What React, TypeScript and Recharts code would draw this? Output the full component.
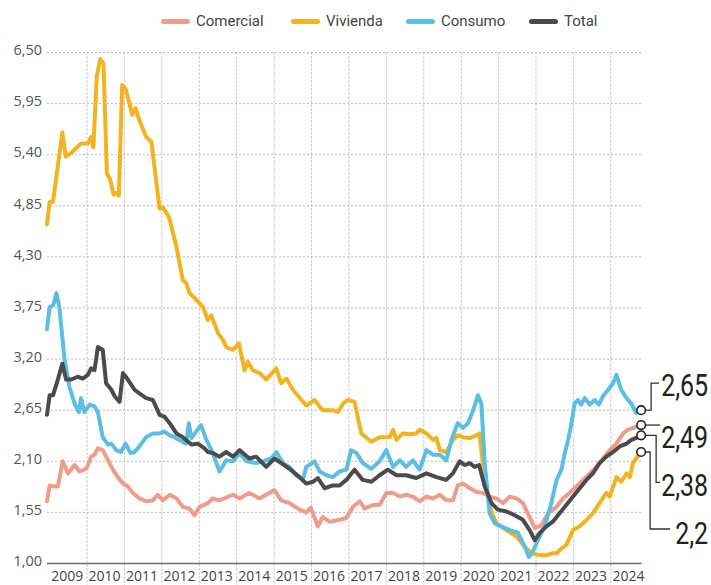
import React from 'react';
import { LineChart, Line, XAxis, YAxis, CartesianGrid, ReferenceLine } from 'recharts';

// ---- categories / ticks ----
const yearLabels = [2009, 2010, 2011, 2012, 2013, 2014, 2015, 2016, 2017, 2018, 2019, 2020, 2021, 2022, 2023, 2024];
const yearBoundaries = [2010, 2011, 2012, 2013, 2014, 2015, 2016, 2017, 2018, 2019, 2020, 2021, 2022, 2023, 2024];
const yTicks = [1.0, 1.55, 2.1, 2.65, 3.2, 3.75, 4.3, 4.85, 5.4, 5.95, 6.5];

// ---- series values: [decimal year, rate %] ----
const comercial: number[][] = [
  [2008.93, 1.67], [2009.0, 1.84], [2009.13, 1.83], [2009.22, 1.83], [2009.35, 2.1], [2009.49, 1.97], [2009.67, 2.06],
  [2009.8, 1.99], [2009.98, 2.02], [2010.11, 2.15], [2010.2, 2.17], [2010.29, 2.24], [2010.42, 2.22], [2010.56, 2.11],
  [2010.69, 2.01], [2010.82, 1.93], [2010.96, 1.86], [2011.09, 1.83], [2011.22, 1.76], [2011.4, 1.7], [2011.58, 1.67],
  [2011.76, 1.68], [2011.89, 1.74], [2012.03, 1.68], [2012.21, 1.74], [2012.39, 1.7], [2012.56, 1.61], [2012.74, 1.59],
  [2012.87, 1.52], [2013.01, 1.61], [2013.23, 1.65], [2013.36, 1.7], [2013.54, 1.68], [2013.9, 1.74], [2014.08, 1.7],
  [2014.34, 1.76], [2014.61, 1.7], [2015.01, 1.79], [2015.19, 1.68], [2015.41, 1.65], [2015.68, 1.58], [2015.86, 1.55],
  [2015.98, 1.6], [2016.17, 1.4], [2016.3, 1.5], [2016.48, 1.45], [2016.75, 1.47], [2016.93, 1.49], [2017.11, 1.61],
  [2017.29, 1.67], [2017.42, 1.59], [2017.64, 1.63], [2017.82, 1.63], [2018.0, 1.76], [2018.18, 1.76], [2018.36, 1.72],
  [2018.53, 1.74], [2018.71, 1.72], [2018.89, 1.67], [2019.07, 1.72], [2019.25, 1.7], [2019.43, 1.74], [2019.6, 1.68],
  [2019.78, 1.68], [2019.91, 1.84], [2020.05, 1.86], [2020.23, 1.81], [2020.41, 1.77], [2020.58, 1.76], [2020.76, 1.72],
  [2020.94, 1.7], [2021.12, 1.65], [2021.3, 1.72], [2021.48, 1.7], [2021.65, 1.65], [2021.83, 1.5], [2021.97, 1.38],
  [2022.14, 1.41], [2022.32, 1.54], [2022.55, 1.61], [2022.72, 1.7], [2022.9, 1.76], [2023.08, 1.83], [2023.26, 1.9],
  [2023.44, 1.97], [2023.61, 2.04], [2023.79, 2.13], [2023.97, 2.22], [2024.15, 2.29], [2024.33, 2.4], [2024.46, 2.44],
  [2024.68, 2.47], [2024.81, 2.49],
];

const vivienda: number[][] = [
  [2008.93, 4.65], [2009.0, 4.89], [2009.09, 4.89], [2009.34, 5.64], [2009.43, 5.38], [2009.58, 5.42], [2009.84, 5.52],
  [2010.02, 5.52], [2010.11, 5.59], [2010.17, 5.48], [2010.26, 6.24], [2010.35, 6.43], [2010.44, 6.38], [2010.53, 5.2],
  [2010.62, 5.13], [2010.71, 4.97], [2010.78, 4.99], [2010.85, 4.96], [2010.94, 6.15], [2011.03, 6.11], [2011.21, 5.83],
  [2011.3, 5.9], [2011.4, 5.77], [2011.58, 5.59], [2011.72, 5.54], [2011.94, 4.82], [2012.03, 4.83], [2012.16, 4.75],
  [2012.21, 4.7], [2012.39, 4.41], [2012.56, 4.05], [2012.65, 4.02], [2012.74, 3.91], [2012.92, 3.84], [2013.1, 3.76],
  [2013.23, 3.62], [2013.32, 3.67], [2013.5, 3.48], [2013.63, 3.41], [2013.72, 3.33], [2013.9, 3.3], [2014.06, 3.37],
  [2014.21, 3.08], [2014.3, 3.17], [2014.43, 3.08], [2014.61, 3.05], [2014.79, 2.98], [2015.06, 3.1], [2015.19, 2.94],
  [2015.33, 2.99], [2015.5, 2.87], [2015.86, 2.7], [2016.08, 2.76], [2016.3, 2.65], [2016.57, 2.65], [2016.71, 2.63],
  [2016.84, 2.72], [2016.97, 2.76], [2017.15, 2.74], [2017.33, 2.4], [2017.6, 2.31], [2017.82, 2.36], [2018.09, 2.36],
  [2018.18, 2.44], [2018.27, 2.33], [2018.44, 2.4], [2018.62, 2.39], [2018.8, 2.4], [2018.89, 2.44], [2019.07, 2.4],
  [2019.25, 2.33], [2019.34, 2.35], [2019.43, 2.22], [2019.6, 2.2], [2019.69, 2.26], [2019.78, 2.33], [2019.91, 2.38],
  [2020.05, 2.36], [2020.23, 2.35], [2020.41, 2.38], [2020.49, 2.4], [2020.58, 2.08], [2020.76, 1.61], [2020.94, 1.43],
  [2021.21, 1.36], [2021.48, 1.29], [2021.7, 1.18], [2021.88, 1.11], [2022.1, 1.09], [2022.28, 1.09], [2022.45, 1.11],
  [2022.55, 1.11], [2022.68, 1.16], [2022.81, 1.2], [2022.99, 1.36], [2023.17, 1.4], [2023.35, 1.47], [2023.52, 1.54],
  [2023.7, 1.65], [2023.88, 1.76], [2023.97, 1.72], [2024.15, 1.93], [2024.28, 1.88], [2024.42, 1.97], [2024.51, 1.93],
  [2024.59, 2.08], [2024.68, 2.13], [2024.81, 2.2],
];

const consumo: number[][] = [
  [2008.93, 3.52], [2009.0, 3.76], [2009.1, 3.78], [2009.18, 3.91], [2009.26, 3.76], [2009.4, 3.19], [2009.53, 2.9],
  [2009.67, 2.72], [2009.78, 2.63], [2009.84, 2.78], [2009.93, 2.63], [2010.07, 2.71], [2010.2, 2.69], [2010.29, 2.63],
  [2010.42, 2.36], [2010.56, 2.28], [2010.65, 2.29], [2010.78, 2.22], [2010.91, 2.2], [2011.03, 2.29], [2011.16, 2.19],
  [2011.27, 2.2], [2011.4, 2.26], [2011.58, 2.36], [2011.76, 2.4], [2011.94, 2.4], [2012.07, 2.42], [2012.21, 2.38],
  [2012.34, 2.36], [2012.47, 2.33], [2012.65, 2.29], [2012.72, 2.51], [2012.79, 2.35], [2012.92, 2.42], [2013.05, 2.49],
  [2013.19, 2.33], [2013.36, 2.19], [2013.54, 1.99], [2013.72, 2.11], [2013.9, 2.1], [2014.08, 2.19], [2014.26, 2.1],
  [2014.52, 2.08], [2014.7, 2.1], [2014.93, 2.13], [2015.06, 2.2], [2015.24, 2.08], [2015.41, 2.04], [2015.59, 1.95],
  [2015.77, 1.9], [2015.86, 2.04], [2016.08, 2.1], [2016.22, 1.99], [2016.4, 1.95], [2016.57, 1.93], [2016.75, 1.99],
  [2016.93, 2.01], [2017.06, 2.22], [2017.2, 2.19], [2017.37, 2.08], [2017.6, 2.02], [2017.82, 2.1], [2018.0, 2.22],
  [2018.18, 2.04], [2018.36, 2.11], [2018.53, 2.04], [2018.71, 2.11], [2018.89, 2.01], [2019.07, 2.22], [2019.25, 2.17],
  [2019.43, 2.17], [2019.6, 2.11], [2019.74, 2.33], [2019.87, 2.47], [2019.91, 2.51], [2020.05, 2.46], [2020.18, 2.51],
  [2020.32, 2.65], [2020.45, 2.81], [2020.54, 2.72], [2020.63, 2.08], [2020.76, 1.54], [2020.9, 1.43], [2021.07, 1.4],
  [2021.3, 1.36], [2021.52, 1.33], [2021.7, 1.18], [2021.81, 1.07], [2021.92, 1.13], [2022.05, 1.25], [2022.23, 1.4],
  [2022.41, 1.65], [2022.55, 1.9], [2022.68, 2.01], [2022.77, 2.19], [2022.86, 2.33], [2022.95, 2.51], [2023.03, 2.72],
  [2023.12, 2.76], [2023.21, 2.71], [2023.3, 2.78], [2023.44, 2.71], [2023.57, 2.76], [2023.68, 2.71], [2023.79, 2.8],
  [2023.93, 2.87], [2024.06, 2.94], [2024.15, 3.03], [2024.28, 2.87], [2024.42, 2.78], [2024.55, 2.72], [2024.68, 2.62],
  [2024.81, 2.65],
];

const total: number[][] = [
  [2008.93, 2.6], [2009.0, 2.81], [2009.09, 2.81], [2009.22, 2.98], [2009.34, 3.15], [2009.44, 2.98], [2009.58, 2.98],
  [2009.75, 3.01], [2009.89, 2.99], [2010.02, 3.03], [2010.11, 3.1], [2010.2, 3.08], [2010.29, 3.33], [2010.42, 3.3],
  [2010.51, 2.94], [2010.65, 2.87], [2010.74, 2.8], [2010.87, 2.74], [2010.96, 3.05], [2011.09, 2.98], [2011.27, 2.87],
  [2011.4, 2.83], [2011.58, 2.78], [2011.76, 2.76], [2011.94, 2.6], [2012.07, 2.58], [2012.21, 2.51], [2012.39, 2.4],
  [2012.56, 2.36], [2012.79, 2.28], [2012.96, 2.29], [2013.14, 2.24], [2013.23, 2.2], [2013.36, 2.19], [2013.54, 2.15],
  [2013.72, 2.2], [2013.9, 2.15], [2014.08, 2.22], [2014.34, 2.13], [2014.52, 2.15], [2014.79, 2.04], [2015.01, 2.13],
  [2015.19, 2.08], [2015.41, 2.02], [2015.68, 1.93], [2015.86, 1.86], [2016.04, 1.88], [2016.17, 1.92], [2016.35, 1.81],
  [2016.57, 1.84], [2016.75, 1.84], [2016.93, 1.9], [2017.15, 2.01], [2017.37, 1.9], [2017.6, 1.88], [2017.82, 1.95],
  [2018.04, 2.01], [2018.27, 1.95], [2018.53, 1.95], [2018.8, 1.92], [2019.07, 1.97], [2019.34, 1.93], [2019.6, 1.9],
  [2019.78, 1.97], [2019.96, 2.1], [2020.09, 2.06], [2020.23, 2.08], [2020.36, 2.04], [2020.48, 2.06], [2020.63, 1.83],
  [2020.81, 1.65], [2020.98, 1.58], [2021.21, 1.56], [2021.43, 1.52], [2021.65, 1.47], [2021.83, 1.36], [2021.97, 1.25],
  [2022.1, 1.33], [2022.28, 1.4], [2022.45, 1.45], [2022.63, 1.54], [2022.81, 1.63], [2022.99, 1.72], [2023.17, 1.81],
  [2023.35, 1.9], [2023.52, 1.97], [2023.7, 2.08], [2023.88, 2.15], [2024.06, 2.2], [2024.24, 2.26], [2024.42, 2.29],
  [2024.55, 2.33], [2024.73, 2.36], [2024.81, 2.38],
];

const toRows = (pairs: number[][]) => pairs.map(([t, v]) => ({ t, v }));

const COLORS = {
  comercial: '#F09C8D',
  vivienda: '#F5B21F',
  consumo: '#5CBEE2',
  total: '#4B4B4B',
};

const fmt = (v: number) => String(v).replace('.', ',');

type EndCfg = { path: (cx: number, cy: number) => string; lx: number; ly: number };

const endCfg: Record<string, EndCfg> = {
  consumo: { path: (cx, cy) => `M${cx + 4},${cy}H${cx + 10}V${cy - 27}H${cx + 18}`, lx: 20, ly: -26 },
  comercial: { path: (cx, cy) => `M${cx + 4},${cy}H${cx + 19}`, lx: 20, ly: 11 },
  total: { path: (cx, cy) => `M${cx + 4},${cy}H${cx + 15}V${cy + 47}H${cx + 19}`, lx: 20, ly: 49 },
  vivienda: { path: (cx, cy) => `M${cx + 4},${cy}H${cx + 9}V${cy + 77}H${cx + 29}`, lx: 34, ly: 80 },
};

const makeEndDot = (pairs: number[][], cfg: EndCfg) => (props: any) => {
  const { cx, cy, index } = props;
  if (index !== pairs.length - 1 || cx == null || cy == null) return <g key={`n${index}`} />;
  const label = fmt(pairs[pairs.length - 1][1]);
  return (
    <g key={`end${index}`}>
      <path d={cfg.path(cx, cy)} stroke="#333" strokeWidth={1.3} fill="none" />
      <circle cx={cx} cy={cy} r={4.3} fill="#fff" stroke="#222" strokeWidth={1.6} />
      <text
        transform={`translate(${cx + cfg.lx},${cy + cfg.ly + 11.5}) scale(0.78,1)`}
        fontSize={32}
        fontFamily="Roboto, 'Liberation Sans', sans-serif"
        fill="#222"
      >
        {label}
      </text>
    </g>
  );
};

const YTick = (props: any) => {
  const { x, y, payload } = props;
  return (
    <text x={x} y={y - 2.5} dy="0.36em" textAnchor="end" fontSize={14.5} fill="#555" fontFamily="'Open Sans', sans-serif">
      {Number(payload.value).toFixed(2).replace('.', ',')}
    </text>
  );
};

const XTick = (props: any) => {
  const { x, y, payload } = props;
  return (
    <text x={x} y={y + 17} textAnchor="middle" fontSize={14} fill="#444" fontFamily="'Open Sans', sans-serif">
      {Math.floor(payload.value)}
    </text>
  );
};

const legendItems = [
  { name: 'Comercial', color: COLORS.comercial, left: 161 },
  { name: 'Vivienda', color: COLORS.vivienda, left: 291 },
  { name: 'Consumo', color: COLORS.consumo, left: 406 },
  { name: 'Total', color: COLORS.total, left: 529 },
];

export default function App() {
  const series = [
    { key: 'comercial', data: comercial },
    { key: 'vivienda', data: vivienda },
    { key: 'consumo', data: consumo },
    { key: 'total', data: total },
  ];
  return (
    <div style={{ position: 'absolute', left: 0, top: 0, width: 711, height: 585, background: '#fff', overflow: 'hidden' }}>
      {legendItems.map((it) => (
        <div
          key={it.name}
          style={{
            position: 'absolute',
            left: it.left,
            top: 11,
            display: 'flex',
            alignItems: 'center',
            fontFamily: 'Roboto, sans-serif',
            fontSize: 15,
            color: '#444',
            lineHeight: '20px',
          }}
        >
          <span style={{ display: 'inline-block', width: 29, height: 5, borderRadius: 3, background: it.color, marginRight: 6, marginTop: 1 }} />
          <span>{it.name}</span>
        </div>
      ))}
      <LineChart width={711} height={585} margin={{ top: 52.5, right: 69.5, left: 0, bottom: 0 }}>
        <CartesianGrid vertical={false} stroke="#b9b9b9" strokeDasharray="2 2" strokeWidth={1} />
        <XAxis
          type="number"
          dataKey="t"
          domain={[2008.93, 2024.82]}
          ticks={yearLabels.map((y) => y + 0.47)}
          interval={0}
          tick={<XTick />}
          tickLine={false}
          tickSize={0}
          tickMargin={0}
          height={21.5}
          axisLine={{ stroke: '#6a6a6a', strokeWidth: 1.5 }}
        />
        <YAxis
          type="number"
          domain={[1, 6.5]}
          ticks={yTicks}
          interval={0}
          width={47}
          tick={<YTick />}
          tickLine={false}
          tickSize={5}
          tickMargin={0}
          axisLine={false}
        />
        {yearBoundaries.map((y) => (
          <ReferenceLine
            key={y}
            segment={[{ x: y, y: 6.5 }, { x: y, y: 0.77 }]}
            ifOverflow="visible"
            stroke="#b9b9b9"
            strokeDasharray="2 2"
            strokeWidth={1}
          />
        ))}
        {series.map((s) => (
          <Line
            key={s.key}
            data={toRows(s.data)}
            dataKey="v"
            type="linear"
            stroke={(COLORS as any)[s.key]}
            strokeWidth={4}
            strokeLinejoin="round"
            strokeLinecap="round"
            dot={makeEndDot(s.data, endCfg[s.key])}
            activeDot={false}
            isAnimationActive={false}
          />
        ))}
      </LineChart>
    </div>
  );
}
